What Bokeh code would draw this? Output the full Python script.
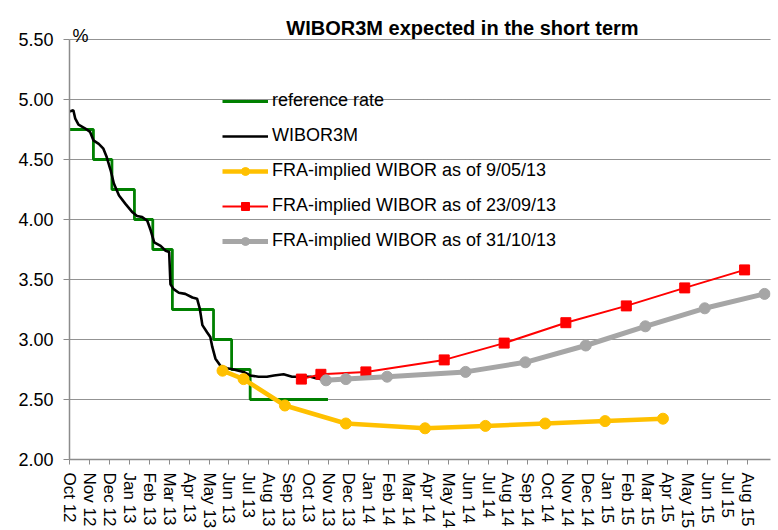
import calendar
from bokeh.plotting import figure
from bokeh.models import (Legend, LegendItem, Label, FixedTicker, Range1d,
                          PrintfTickFormatter)
from bokeh.embed import file_html
from bokeh.resources import INLINE

title_text = "WIBOR3M expected in the short term"
unit_text = "%"

tick_labels = ["Oct 12", "Nov 12", "Dec 12", "Jan 13", "Feb 13", "Mar 13", "Apr 13",
               "May 13", "Jun 13", "Jul 13", "Aug 13", "Sep 13", "Oct 13", "Nov 13",
               "Dec 13", "Jan 14", "Feb 14", "Mar 14", "Apr 14", "May 14", "Jun 14",
               "Jul 14", "Aug 14", "Sep 14", "Oct 14", "Nov 14", "Dec 14", "Jan 15",
               "Feb 15", "Mar 15", "Apr 15", "May 15", "Jun 15", "Jul 15", "Aug 15"]
y_ticks = [2.0, 2.5, 3.0, 3.5, 4.0, 4.5, 5.0, 5.5]

ref_dates = ["2012-10-01", "2012-11-07", "2012-12-05", "2013-01-09", "2013-02-06",
             "2013-03-06", "2013-05-08", "2013-06-05", "2013-07-03", "2013-10-31"]
ref_values = [4.75, 4.50, 4.25, 4.00, 3.75, 3.25, 3.00, 2.75, 2.50, 2.50]

wibor_dates = ["2012-10-01", "2012-10-07", "2012-10-10", "2012-10-15", "2012-10-25",
               "2012-11-02", "2012-11-07", "2012-11-15", "2012-11-22", "2012-11-27",
               "2012-12-03", "2012-12-08", "2012-12-16", "2012-12-26", "2013-01-06",
               "2013-01-13", "2013-01-21", "2013-01-29", "2013-02-03", "2013-02-08",
               "2013-02-17", "2013-02-24", "2013-03-01", "2013-03-03", "2013-03-08",
               "2013-03-16", "2013-03-26", "2013-04-06", "2013-04-13", "2013-04-17",
               "2013-04-21", "2013-04-28", "2013-05-03", "2013-05-06", "2013-05-11",
               "2013-05-19", "2013-05-29", "2013-06-08", "2013-06-23", "2013-07-03",
               "2013-07-16", "2013-07-29", "2013-08-09", "2013-08-24", "2013-09-06",
               "2013-09-18", "2013-10-04", "2013-10-11", "2013-10-19", "2013-10-31"]
wibor_values = [4.90, 4.91, 4.84, 4.79, 4.76, 4.73, 4.66, 4.63, 4.59, 4.52,
                4.41, 4.30, 4.20, 4.13, 4.06, 4.03, 4.02, 3.99, 3.91, 3.81,
                3.78, 3.74, 3.73, 3.46, 3.42, 3.39, 3.38, 3.35, 3.34, 3.26,
                3.12, 3.06, 3.02, 2.94, 2.84, 2.78, 2.76, 2.75, 2.73, 2.70,
                2.69, 2.69, 2.70, 2.71, 2.69, 2.69, 2.69, 2.68, 2.67, 2.66]

fra_may_dates = ["2013-05-22", "2013-06-23", "2013-08-26", "2013-11-27", "2014-03-27",
                 "2014-06-27", "2014-09-27", "2014-12-28", "2015-03-25"]
fra_may_values = [2.74, 2.67, 2.45, 2.30, 2.26, 2.28, 2.30, 2.32, 2.34]

fra_sep_dates = ["2013-09-20", "2013-10-20", "2013-12-28", "2014-04-25", "2014-07-26",
                 "2014-10-29", "2015-01-30", "2015-04-27", "2015-07-28"]
fra_sep_values = [2.67, 2.71, 2.73, 2.83, 2.97, 3.14, 3.28, 3.43, 3.58]

fra_oct_dates = ["2013-10-28", "2013-11-27", "2014-01-30", "2014-05-28", "2014-08-28",
                 "2014-11-28", "2015-02-26", "2015-05-28", "2015-08-28"]
fra_oct_values = [2.66, 2.67, 2.69, 2.73, 2.81, 2.95, 3.11, 3.26, 3.38]


def month_pos(s):
    y, m, d = map(int, s.split("-"))
    return (y - 2012) * 12 + (m - 10) + (d - 1) / calendar.monthrange(y, m)[1]


FONT = "Liberation Sans"

# frame spans from above the title down to the x axis; the y axis line is bounded to 2.0-5.5
p = figure(frame_width=701, frame_height=451, output_backend="svg",
           toolbar_location=None, x_range=Range1d(0, 35.17),
           y_range=Range1d(2.0, 5.5 + 31 / 120),
           min_border_left=69, min_border_top=8, min_border_right=3,
           min_border_bottom=66)
p.outline_line_color = None
p.background_fill_color = "white"
p.border_fill_color = "white"

# axes
p.xaxis.ticker = FixedTicker(ticks=list(range(len(tick_labels))))
p.xaxis.major_label_overrides = {i: t for i, t in enumerate(tick_labels)}
p.xaxis.major_label_orientation = "vertical"
p.xaxis.minor_tick_line_color = None
p.xaxis.major_tick_out = 5
p.xaxis.major_tick_in = 0
p.xaxis.major_label_standoff = 8
p.xaxis.major_label_text_font_size = "17px"
p.yaxis.ticker = FixedTicker(ticks=y_ticks)
p.yaxis.formatter = PrintfTickFormatter(format="%.2f")
p.yaxis.bounds = (2.0, 5.5)
p.yaxis.minor_tick_line_color = None
p.yaxis.major_tick_out = 6
p.yaxis.major_tick_in = 0
p.yaxis.major_label_standoff = 10
p.yaxis.major_label_text_font_size = "18px"
for ax in (p.xaxis, p.yaxis):
    ax.axis_line_color = "#8c8c8c"
    ax.major_tick_line_color = "#8c8c8c"
    ax.axis_line_width = 1.5
    ax.major_label_text_font = FONT
    ax.major_label_text_color = "black"

p.xgrid.grid_line_color = None
p.ygrid.grid_line_color = "black"
p.ygrid.grid_line_dash = "1 1"
p.ygrid.grid_line_width = 1
p.ygrid.grid_line_alpha = 0.85

# series
xr = [month_pos(d) for d in ref_dates]
r_ref = p.step(xr, ref_values, mode="after", line_color="#008000", line_width=2.8)

xw = [month_pos(d) for d in wibor_dates]
r_wib = p.line(xw, wibor_values, line_color="black", line_width=2.6)

xm = [month_pos(d) for d in fra_may_dates]
r_may_l = p.line(xm, fra_may_values, line_color="#FFC000", line_width=4.5)
r_may_m = p.scatter(xm, fra_may_values, marker="circle", size=11,
                    fill_color="#FFC000", line_color="#FFC000")

xs = [month_pos(d) for d in fra_sep_dates]
r_sep_l = p.line(xs, fra_sep_values, line_color="#FF0000", line_width=2)
r_sep_m = p.scatter(xs, fra_sep_values, marker="square", size=10,
                    fill_color="#FF0000", line_color="#FF0000")

xo = [month_pos(d) for d in fra_oct_dates]
r_oct_l = p.line(xo, fra_oct_values, line_color="#A6A6A6", line_width=5)
r_oct_m = p.scatter(xo, fra_oct_values, marker="circle", size=11,
                    fill_color="#A6A6A6", line_color="#A6A6A6")

legend = Legend(items=[
    LegendItem(label="reference rate", renderers=[r_ref]),
    LegendItem(label="WIBOR3M", renderers=[r_wib]),
    LegendItem(label="FRA-implied WIBOR as of 9/05/13", renderers=[r_may_l, r_may_m]),
    LegendItem(label="FRA-implied WIBOR as of 23/09/13", renderers=[r_sep_l, r_sep_m]),
    LegendItem(label="FRA-implied WIBOR as of 31/10/13", renderers=[r_oct_l, r_oct_m]),
], location=(153, 208), orientation="vertical")
legend.border_line_color = None
legend.background_fill_alpha = 0
legend.padding = 0
legend.margin = 0
legend.spacing = 14
legend.glyph_width = 46
legend.glyph_height = 20
legend.label_height = 20
legend.label_standoff = 4
legend.label_text_font = FONT
legend.label_text_font_size = "18px"
legend.label_text_color = "black"
p.add_layout(legend, "center")

p.add_layout(Label(x=393, y=432, x_units="screen", y_units="screen", text=title_text,
                   text_font=FONT, text_font_size="20px", text_font_style="bold",
                   text_color="black", text_align="center", text_baseline="alphabetic"))
p.add_layout(Label(x=3, y=424, x_units="screen", y_units="screen", text=unit_text,
                   text_font=FONT, text_font_size="18px", text_color="black",
                   text_align="left", text_baseline="alphabetic"))

open("out.html", "w").write(file_html(p, INLINE))
